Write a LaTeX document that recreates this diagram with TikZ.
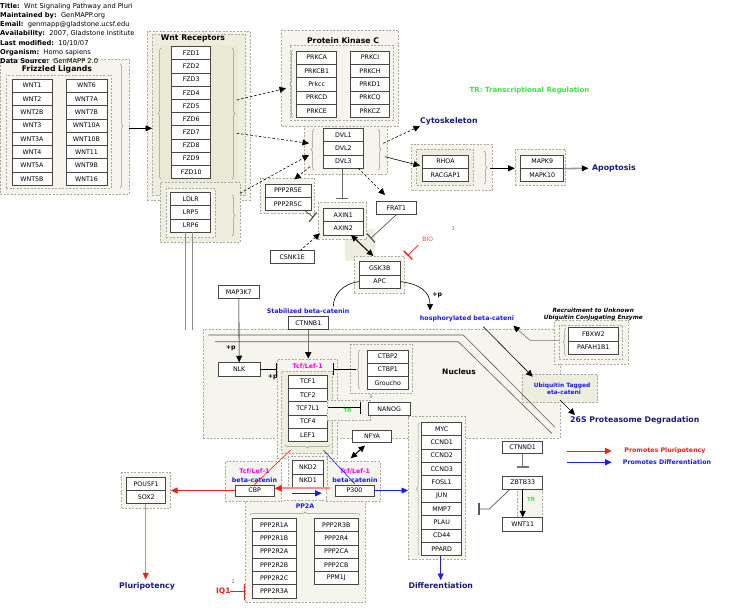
\documentclass[tikz,border=0pt]{standalone}
\usepackage{fontspec}
\setmainfont{DejaVu Sans}
\usetikzlibrary{arrows.meta,decorations.pathreplacing,fit,calc}
\definecolor{grpfill}{RGB}{245,245,238}
\definecolor{grpfillg}{RGB}{238,238,222}
\definecolor{grpfillg2}{RGB}{233,233,213}
\definecolor{navy}{RGB}{25,25,125}
\definecolor{lblue}{RGB}{25,25,250}
\definecolor{mag}{RGB}{240,0,240}
\definecolor{trgreen}{RGB}{50,235,50}
\definecolor{pred}{RGB}{250,25,25}
\definecolor{pink}{RGB}{250,120,120}
\definecolor{boxline}{RGB}{70,70,70}
\definecolor{grpline}{RGB}{170,170,160}
\definecolor{bracec}{RGB}{150,150,150}
\definecolor{numc}{RGB}{100,100,200}
\newcommand\genef{\fontsize{6.3}{7}\selectfont}
\newcommand\titf{\fontsize{7.7}{9}\selectfont\bfseries}
\newcommand\lblf{\fontsize{6.3}{7.5}\selectfont\bfseries}
\newcommand\bigf{\fontsize{7.8}{9}\selectfont\bfseries}
\tikzset{
  gene/.style={draw=boxline, fill=white, line width=0.8pt, inner sep=0pt, minimum height=13.3pt, font=\genef},
  grp/.style={draw=grpline, dash pattern=on 2pt off 1.5pt, fill=grpfill, line width=0.6pt, inner sep=0pt},
  grpg/.style={grp, fill=grpfillg},
  grpg2/.style={grp, fill=grpfillg2},
  brc/.style={draw=bracec, line width=0.5pt, decorate, decoration={brace, amplitude=3pt}},
  arr/.style={line width=0.6pt, -{Triangle[length=6.5pt,width=6pt]}},
  arrk/.style={line width=0.6pt, -{Triangle[length=6.5pt,width=6pt,color=black]}},
  darr/.style={arr, dash pattern=on 2.5pt off 2pt},
  dbl/.style={line width=1pt, {Triangle[length=6.5pt,width=6pt]}-{Triangle[length=6.5pt,width=6pt]}},
  inh/.style={line width=0.7pt, -{Bar[width=12pt,line width=1.3pt]}},
  txt/.style={inner sep=0pt},
  hdr/.style={txt, anchor=west, font=\fontsize{6.7}{7.5}\selectfont},
  nucl/.style={draw=black!65, line width=0.6pt},
}
\begin{document}
\begin{tikzpicture}[x=1pt,y=-1pt]
\useasboundingbox (0,0) rectangle (729,613);

% ---------------- nucleus
\node[grp, fit={(203,329)(560,438)}] (nuc) {};
\node[grp, fill=grpfillg, fit={(522.3,374.3)(597.7,402.7)}] (gubq) {};
\draw[nucl] (208.3,335) -- (463.3,335) -- (555,427.3);
\draw[nucl] (215,341.7) -- (458.3,341.7) -- (551.7,433.3);
\node[txt, font=\fontsize{7.5}{9}\selectfont\bfseries] (nuct) at (459,371.7) {Nucleus};
\node[txt, font=\fontsize{5.9}{7}\selectfont\bfseries, text=lblue, align=center] (ubqt) at (562,389) {Ubiquitin Tagged\\[-0.5pt]\ \ eta-cateni};

% ---------------- Frizzled ligands
\node[grp, fit={(0,59)(129,194)}] (gfz) {};
\node[grp, fit={(6,75)(111,188)}] (gfzi) {};
\node[txt, font=\titf] (tfz) at (57,69.5) {Frizzled Ligands};
\draw[brc] (120,64) -- (120,188);
\foreach \t [count=\i from 0] in {WNT1,WNT2,WNT2B,WNT3,WNT3A,WNT4,WNT5A,WNT5B}
  \node[gene, minimum width=40pt] (wl\i) at (32,{85.65+\i*13.3}) {\t};
\foreach \t [count=\i from 0] in {WNT6,WNT7A,WNT7B,WNT10A,WNT10B,WNT11,WNT9B,WNT16}
  \node[gene, minimum width=41pt] (wr\i) at (86.5,{85.65+\i*13.3}) {\t};

% ---------------- Wnt receptors
\node[grp, fit={(147,31)(250,200)}] (gwr) {};
\node[grpg, fit={(152,34)(245,195)}] (gwr2) {};
\node[grpg2, draw=none, fit={(160,45)(238,183)}] (gwr3) {};
\node[txt, font=\titf] (twr) at (193,38.3) {Wnt Receptors};
\draw[brc] (161,179) -- (161,48);
\draw[brc] (232,48) -- (232,179);
\foreach \t [count=\i from 0] in {FZD1,FZD2,FZD3,FZD4,FZD5,FZD6,FZD7,FZD8,FZD9,FZD10}
  \node[gene, minimum width=39pt, minimum height=13.17pt] (fz\i) at (191.2,{53.3+\i*13.17}) {\t};

\node[grpg, fit={(160,182)(240,242)}] (gld) {};
\node[grp, fit={(166,188)(215,237)}] (gldi) {};
\draw[brc] (232,195) -- (232,236);
\foreach \t [count=\i from 0] in {LDLR,LRP5,LRP6}
  \node[gene, minimum width=40pt] (ld\i) at (190.7,{198.95+\i*13.3}) {\t};
\draw[draw=black!45, line width=0.6pt] (185.5,232.3) -- (185.5,330);
\draw[draw=black!45, line width=0.6pt] (192.5,232.3) -- (192.5,330);

% ---------------- PKC
\node[grp, fit={(281.7,30)(398.3,126.7)}] (gpkc) {};
\node[grp, fit={(290,45)(393.3,120.7)}] (gpkci) {};
\node[txt, font=\titf] (tpkc) at (343,40.5) {Protein Kinase C};
\draw[brc] (293,118) -- (293,50);
\foreach \t [count=\i from 0] in {PRKCA,PRKCB1,Prkcc,PRKCD,PRKCE}
  \node[gene, minimum width=40pt] (pl\i) at (316.7,{57.65+\i*13.3}) {\t};
\foreach \t [count=\i from 0] in {PRKCI,PRKCH,PRKD1,PRKCQ,PRKCZ}
  \node[gene, minimum width=38.7pt] (pr\i) at (370,{57.65+\i*13.3}) {\t};

% ---------------- DVL
\node[grp, fit={(304.3,126)(387.7,174)}] (gdvl) {};
\draw[brc] (314,170) -- (314,129);
\draw[brc] (378,129) -- (378,170);
\foreach \t [count=\i from 0] in {DVL1,DVL2,DVL3}
  \node[gene, minimum width=40pt] (dvl\i) at (343.3,{134.95+\i*13.3}) {\t};

% ---------------- PPP2R5
\node[grp, fit={(260,178.3)(314.3,213.3)}] (gpp5) {};
\foreach \t [count=\i from 0] in {PPP2R5E,PPP2R5C}
  \node[gene, minimum width=46pt] (pp5\i) at (288,{190.65+\i*13.3}) {\t};

% ---------------- AXIN / GSK3B
\node[grp, fill=grpfillg, draw=none, fit={(345,229.3)(375,261)}] (gext) {};
\node[grp, fit={(318.3,202.7)(366.7,239.3)}] (gax) {};
\foreach \t [count=\i from 0] in {AXIN1,AXIN2}
  \node[gene, minimum width=40pt] (ax\i) at (343.3,{214.95+\i*13.3}) {\t};
\node[grp, fit={(354.3,256)(404,293.3)}] (ggsk) {};
\foreach \t [count=\i from 0] in {GSK3B,APC}
  \node[gene, minimum width=40.7pt] (gsk\i) at (379.7,{268.35+\i*13.3}) {\t};
\node[gene, minimum width=40.7pt, minimum height=12.7pt] (frat) at (396.3,208) {FRAT1};
\node[gene, minimum width=44.3pt, minimum height=12.7pt] (csnk) at (292.2,257) {CSNK1E};
\node[gene, minimum width=41pt, minimum height=12.7pt] (map3k7) at (238.8,292) {MAP3K7};
\node[gene, minimum width=40pt, minimum height=12.7pt] (ctnnb1) at (308.3,323) {CTNNB1};

% ---------------- RHOA / MAPK
\node[grp, fit={(411.7,144)(492.3,190)}] (grho) {};
\node[grpg, fit={(416.7,149.3)(473.3,185)}] (grhoi) {};
\draw[brc] (484,151) -- (484,184);
\foreach \t [count=\i from 0] in {RHOA,RACGAP1}
  \node[gene, minimum width=46.4pt] (rho\i) at (445.5,{161.65+\i*13.3}) {\t};
\node[grp, fit={(515,149.3)(565.7,185)}] (gmapk) {};
\foreach \t [count=\i from 0] in {MAPK9,MAPK10}
  \node[gene, minimum width=43pt] (mapk\i) at (542.2,{161.65+\i*13.3}) {\t};

% ---------------- FBXW2
\node[grp, fit={(554.3,320.7)(628.3,364)}] (gfb) {};
\node[grp, fit={(559.3,325)(622.7,359.3)}] (gfbi) {};
\draw[brc] (566,356) -- (566,328);
\foreach \t [count=\i from 0] in {FBXW2,PAFAH1B1}
  \node[gene, minimum width=50pt, minimum height=13.2pt] (fb\i) at (593.3,{334.3+\i*13.2}) {\t};
\node[txt, font=\fontsize{5.8}{7}\selectfont\bfseries\itshape, align=center] (trec) at (593.3,314.3) {Recruitment to Unknown\\[0.6pt]Ubiquitin Conjugating Enzyme};

% ---------------- Tcf/Lef
\node[grp, fit={(277.3,359)(337.3,458.3)}] (gtcf) {};
\node[grpg, fit={(281.7,371)(332.7,453.3)}] (gtcfi) {};
\node[txt, font=\lblf, text=mag] (ttcf) at (307.7,366) {Tcf/Lef-1};
\foreach \t [count=\i from 0] in {TCF1,TCF2,TCF7L1,TCF4,LEF1}
  \node[gene, minimum width=39pt] (tcf\i) at (307.8,{381.65+\i*13.3}) {\t};
\draw[brc] (330,445) -- (285,445);

\node[gene, minimum width=41.7pt] (nlk) at (239.2,369.3) {NLK};
\node[grp, fit={(350.7,344.3)(412.3,393.3)}] (gctbp) {};
\draw[brc] (360,389) -- (360,350);
\foreach \t [count=\i from 0] in {CTBP2,CTBP1,Groucho}
  \node[gene, minimum width=41pt, minimum height=13.1pt] (ctbp\i) at (387.8,{356.55+\i*13.1}) {\t};
\node[grp, fit={(327.3,400)(370.7,420)}] (gtrn) {};
\node[gene, minimum width=41.7pt, minimum height=12.3pt] (nanog) at (389.2,408.8) {NANOG};
\node[gene, minimum width=39.4pt, minimum height=12.7pt] (nfya) at (372,436.3) {NFYA};

% ---------------- target genes
\node[grp, fit={(408.3,416.7)(465.7,559.3)}] (gtg) {};
\draw[brc] (419.5,555) -- (419.5,423);
\foreach \t [count=\i from 0] in {MYC,CCND1,CCND2,CCND3,FOSL1,JUN,MMP7,PLAU,CD44,PPARD}
  \node[gene, minimum width=40pt] (tg\i) at (441.7,{428.95+\i*13.33}) {\t};

% ---------------- PP2A, CBP, P300
\node[grp, fit={(245.7,500)(365,602.3)}] (gpp2a) {};
\draw[brc] (250,515) -- (360,515);
\foreach \t [count=\i from 0] in {PPP2R1A,PPP2R1B,PPP2R2A,PPP2R2B,PPP2R2C,PPP2R3A}
  \node[gene, minimum width=43.7pt] (ppl\i) at (274.2,{524.95+\i*13.3}) {\t};
\foreach \t [count=\i from 0] in {PPP2R3B,PPP2R4,PPP2CA,PPP2CB,PPM1J}
  \node[gene, minimum width=44pt] (ppr\i) at (336.3,{524.95+\i*13.3}) {\t};
\node[grp, fit={(225,461.7)(281.7,501.7)}] (gcbp) {};
\node[grp, fit={(326,461.7)(380,501.7)}] (gp300) {};
\node[grp, fit={(288.3,456.7)(327.3,488.3)}] (gnkd) {};
\foreach \t [count=\i from 0] in {NKD2,NKD1}
  \node[gene, minimum width=30.6pt] (nkd\i) at (308,{467.35+\i*13.3}) {\t};
\node[txt, font=\lblf, text=mag] (tcbp1) at (254.5,471.7) {Tcf/Lef-1};
\node[txt, font=\lblf, text=lblue] (tcbp2) at (254.5,480) {beta-catenin};
\node[txt, font=\lblf, text=mag] (tp3001) at (355,471.7) {Tcf/Lef-1};
\node[txt, font=\lblf, text=lblue] (tp3002) at (355,480) {beta-catenin};
\node[gene, minimum width=39.3pt, minimum height=11pt] (cbp) at (254.7,490.5) {CBP};
\node[gene, minimum width=39pt, minimum height=11pt] (p300) at (354.5,490.5) {P300};
\node[txt, font=\lblf, text=lblue] (tpp2a) at (305,505.7) {PP2A};

% ---------------- POU5F1
\node[grp, fit={(121.7,472.7)(170.7,508.3)}] (gpou) {};
\foreach \t [count=\i from 0] in {POU5F1,SOX2}
  \node[gene, minimum width=39pt, minimum height=13.2pt] (pou\i) at (146.2,{483.9+\i*13.2}) {\t};

% ---------------- ZBTB33
\node[grp, fit={(517.3,489.3)(542.7,517.7)}] (gzb) {};
\node[gene, minimum width=40pt, minimum height=12.3pt] (ctnnd1) at (522.7,447.2) {CTNND1};
\node[gene, minimum width=40pt] (zbtb) at (522.7,482.7) {ZBTB33};
\node[gene, minimum width=40pt] (wnt11b) at (522.7,524.3) {WNT11};

% ---------------- header
\node[hdr] (h1) at (0,6.7) {\textbf{Title:}\ \ Wnt Signaling Pathway and Pluri};
\node[hdr] (h2) at (0,15.7) {\textbf{Maintained by:}\ \ GenMAPP.org};
\node[hdr] (h3) at (0,25) {\textbf{Email:}\ \ genmapp@gladstone.ucsf.edu};
\node[hdr] (h4) at (0,34) {\textbf{Availability:}\ \ 2007, Gladstone Institute};
\node[hdr] (h5) at (0,43.3) {\textbf{Last modified:}\ \ 10/10/07};
\node[hdr] (h6) at (0,52.3) {\textbf{Organism:}\ \ Homo sapiens};
\node[hdr] (h7) at (0,61) {\textbf{Data Source:}\ \ GenMAPP 2.0};

% ---------------- free labels
\node[txt, font=\bigf, text=navy, anchor=west] (cyto) at (420,121.7) {Cytoskeleton};
\node[txt, font=\fontsize{7}{8}\selectfont\bfseries, text=trgreen] (trleg) at (529.5,91) {TR: Transcriptional Regulation};
\node[txt, font=\bigf, text=navy, anchor=west] (apop) at (592,168.3) {Apoptosis};
\node[txt, font=\fontsize{6}{7}\selectfont, text=pred!80] (bio) at (427.7,239) {BIO};
\node[txt, font=\fontsize{5}{6}\selectfont, text=numc] (n1) at (453.3,228.3) {1};
\node[txt, font=\lblf] (pp1) at (437.3,295) {+p};
\node[txt, font=\lblf, text=lblue] (stab) at (308,311) {Stabilized beta-catenin};
\node[txt, font=\lblf, text=lblue] (phos) at (467,319) {hosphorylated beta-cateni};
\node[txt, font=\bigf, text=navy, anchor=west] (prot) at (570,420) {26S Proteasome Degradation};
\node[txt, font=\lblf, text=pred] (lgr) at (665,451) {Promotes Pluripotency};
\node[txt, font=\lblf, text=lblue] (lgb) at (667,462.3) {Promotes Differentiation};
\node[txt, font=\lblf] (pp2) at (230.7,348.3) {+p};
\node[txt, font=\lblf] (pp3) at (272.7,376.7) {+p};
\node[txt, font=\fontsize{5.5}{6}\selectfont\bfseries, text=trgreen] (tr1) at (347.7,410.7) {TR};
\node[txt, font=\fontsize{5}{6}\selectfont, text=numc] (n3) at (370.7,396.7) {3};
\node[txt, font=\fontsize{5.5}{6}\selectfont\bfseries, text=trgreen] (tr2) at (531,499) {TR};
\node[txt, font=\bigf, text=navy] (plur) at (147,586) {Pluripotency};
\node[txt, font=\bigf, text=navy] (diff) at (440.8,586) {Differentiation};
\node[txt, font=\fontsize{7.5}{9}\selectfont\bfseries, text=pred] (iq1) at (223.3,591.7) {IQ1};
\node[txt, font=\fontsize{5}{6}\selectfont, text=numc] (n2) at (233.3,581.7) {2};

% ---------------- connectors
\coordinate (fzo) at (129,128.3);
\coordinate (wri) at (152,128.3);
\draw[arr] (fzo) -- (wri);
\coordinate (a2s) at (236.7,100);
\coordinate (a2e) at (286,88.3);
\draw[darr] (a2s) -- (a2e);
\coordinate (a3s) at (236.7,133.3);
\coordinate (a3e) at (309,143.3);
\draw[darr] (a3s) -- (a3e);
\coordinate (a4s) at (240,193.3);
\coordinate (a4e) at (309,155);
\draw[darr] (a4s) -- (a4e);
\coordinate (a5e) at (342.3,199);
\draw[inh, draw=black!60, line width=1pt] (dvl2.south -| a5e) -- (a5e);
\coordinate (a6s) at (310,166.7);
\coordinate (a6e) at (294.3,179.3);
\draw[darr] (a6s) -- (a6e);
\coordinate (a7s) at (358.3,168.3);
\coordinate (a7e) at (385,195);
\draw[darr] (a7s) -- (a7e);
\coordinate (a8s) at (383.3,143.3);
\coordinate (a8e) at (420,126);
\draw[darr] (a8s) -- (a8e);
\coordinate (a9s) at (385,156.7);
\coordinate (a9e) at (420,165.7);
\draw[arr] (a9s) -- (a9e);
\coordinate (a10s) at (490,168.3);
\draw[arr] (a10s) -- (gmapk.west |- a10s);
\coordinate (a11e) at (588.3,168.3);
\coordinate (a11m) at (583,168.3);
\draw[draw=black!40, line width=1.6pt] (mapk0.south east) -- (a11m);
\draw[arr] (a11m) -- (a11e);
\coordinate (a12e) at (313.5,217.5);
\draw[inh, draw=black!65] (pp51.south east) ++(-6,0) -- (a12e);
\coordinate (a13e) at (370.5,238.5);
\draw[inh, draw=black!65] (frat.south) -- (a13e);
\coordinate (a14s) at (351,235);
\coordinate (a14e) at (373.3,256);
\draw[dbl] (a14s) -- (a14e);
\coordinate (a15e) at (320,233.3);
\coordinate (a15s) at (300,250.7);
\draw[darr] (a15s) -- (a15e);
\coordinate (bios) at (418.3,245);
\coordinate (bioe) at (407.7,255.7);
\draw[inh, draw=pred] (bios) -- (bioe);
\draw[line width=0.6pt] (gsk1.west) .. controls (342,284) and (333.3,295) .. (333.3,306.7);
\coordinate (a18e) at (430,310.5);
\draw[arr] (gsk1.east) .. controls (420,284) and (430,292) .. (a18e);
\draw[arr] (map3k7.south) -- (nlk.north);
\draw[arrk, draw=black!55, line width=1.4pt] (ctnnb1.south) -- (ctnnb1.south |- gtcf.north);
\draw[inh] (nlk.east) -- (nlk.east -| gtcf.west);
\coordinate (ctbr) at (356,369.3);
\draw[inh] (ctbr) -- (ctbr -| gtcfi.east);
\coordinate (nanb) at (361,407.7);
\draw[inh] (tcf2.east |- nanb) -- (nanb);
\coordinate (a24s) at (365,445.5);
\coordinate (a24e) at (350.7,458.3);
\draw[dbl] (a24s) -- (a24e);
\coordinate (r1s) at (290.7,450);
\coordinate (r1e) at (254,485);
\draw[pred, line width=0.6pt] (r1s) -- (r1e);
\coordinate (b1s) at (323.3,450);
\coordinate (b1e) at (355,484);
\draw[lblue, line width=0.6pt] (b1s) -- (b1e);
\coordinate (a27s) at (330,488.3);
\coordinate (a27e) at (275,488.3);
\draw[draw=pred!50, line width=2pt] (a27s) -- ($(a27e)+(5,0)$);
\draw[pred, line width=0.6pt, -{Triangle[length=6.5pt,width=6.5pt]}] ($(a27e)+(6,0)$) -- (a27e);
\coordinate (a28s) at (291.7,493.3);
\coordinate (a28e) at (321.7,493.3);
\draw[arr, lblue] (a28s) -- (a28e);
\draw[arr, pred] (cbp.west) -- (gpou.east |- cbp.west);
\coordinate (a30e) at (145.7,579.3);
\draw[draw=pink, line width=1pt] (pou1.south -| a30e) -- ($(a30e)+(0,-4)$);
\draw[arr, pred] ($(a30e)+(0,-5)$) -- (a30e);
\draw[arr, lblue] (p300.east) -- (gtg.west |- p300.east);
\coordinate (a32e) at (440.7,580);
\draw[arr, lblue] (tg9.south -| a32e) -- (a32e);
\coordinate (a33e) at (522.7,467.7);
\draw[inh, draw=black!55, line width=1pt] (ctnnd1.south) -- (a33e);
\draw[arr] (zbtb.south) -- (wnt11b.north);
\coordinate (zb1) at (510,489.3);
\coordinate (zb2) at (489.3,509);
\coordinate (zb3) at (478.3,509);
\draw[inh, draw=black!65] (zb1) -- (zb2) -- (zb3);
\coordinate (fb1) at (530,340.3);
\coordinate (fb2) at (513.3,325.7);
\draw[arrk, draw=black!55] (gfbi.west |- fb1) -- (fb1) -- (fb2);
\coordinate (pbs) at (483.3,326.7);
\coordinate (pbe) at (532.7,376.7);
\draw[arr] (pbs) -- (pbe);
\coordinate (ups) at (560,400);
\coordinate (upe) at (575,415);
\draw[arr] (ups) -- (upe);
\coordinate (lg1s) at (566.7,451);
\coordinate (lg1e) at (611.7,451);
\draw[arr, pred] (lg1s) -- (lg1e);
\coordinate (lg2s) at (566.7,462.3);
\coordinate (lg2e) at (611.7,462.3);
\draw[arr, lblue] (lg2s) -- (lg2e);
\coordinate (iqs) at (230,591.7);
\draw[inh, draw=pred, -{Bar[width=16pt,line width=1.3pt]}] (iqs) -- (iqs -| gpp2a.west);
\end{tikzpicture}
\end{document}
